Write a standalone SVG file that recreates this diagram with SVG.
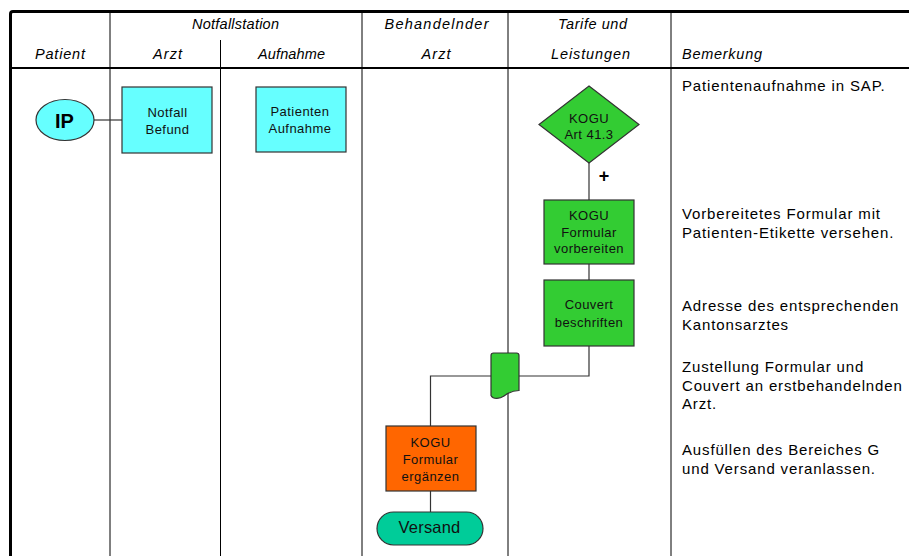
<svg xmlns="http://www.w3.org/2000/svg" width="909" height="556" viewBox="0 0 909 556">
  <style>
    .hdr { font-family: "Liberation Sans", Arial, sans-serif; font-style: italic; font-size: 14.5px; fill: #000; }
    .lbl { font-family: "Liberation Sans", Arial, sans-serif; font-size: 13px; letter-spacing: 0.45px; fill: #111; text-anchor: middle; }
    .note { font-family: "Liberation Sans", Arial, sans-serif; font-size: 15px; letter-spacing: 0.85px; fill: #000; }
    .grid { stroke: #000; stroke-width: 1; fill: none; }
    .frame { stroke: #000; stroke-width: 3; fill: none; }
    .shape { stroke: #333; stroke-width: 1.2; }
    .cyan { fill: #66FFFF; }
    .green { fill: #33CC33; }
    .orange { fill: #FF6600; }
    .teal { fill: #00CC99; }
    .conn { stroke: #333; stroke-width: 1.2; fill: none; }
  </style>

  <rect width="909" height="556" fill="#fff"/>

  <!-- swimlane table -->
  <g id="lanes">
    <line class="grid" x1="110" y1="12" x2="110" y2="556"/>
    <line class="grid" x1="220.5" y1="40" x2="220.5" y2="556"/>
    <line class="grid" x1="362" y1="12" x2="362" y2="556"/>
    <line class="grid" x1="508" y1="12" x2="508" y2="556"/>
    <line class="grid" x1="671" y1="12" x2="671" y2="556"/>
    <line x1="10" y1="68" x2="909" y2="68" stroke="#000" stroke-width="2"/>
    <path class="frame" d="M10.5,556 L10.5,14 Q10.5,11.5 13,11.5 L909,11.5"/>
  </g>

  <g id="headers">
    <text class="hdr" x="235.5" y="29" text-anchor="middle" textLength="87" lengthAdjust="spacing">Notfallstation</text>
    <text class="hdr" x="60" y="59" text-anchor="middle" textLength="50" lengthAdjust="spacing">Patient</text>
    <text class="hdr" x="167.5" y="59" text-anchor="middle" textLength="29" lengthAdjust="spacing">Arzt</text>
    <text class="hdr" x="291.5" y="59" text-anchor="middle" textLength="67" lengthAdjust="spacing">Aufnahme</text>
    <text class="hdr" x="436.5" y="29" text-anchor="middle" textLength="104" lengthAdjust="spacing">Behandelnder</text>
    <text class="hdr" x="436" y="59" text-anchor="middle" textLength="29" lengthAdjust="spacing">Arzt</text>
    <text class="hdr" x="592.5" y="29" text-anchor="middle" textLength="69" lengthAdjust="spacing">Tarife und</text>
    <text class="hdr" x="590.5" y="59" text-anchor="middle" textLength="79" lengthAdjust="spacing">Leistungen</text>
    <text class="hdr" x="682" y="59" textLength="80" lengthAdjust="spacing">Bemerkung</text>
  </g>

  <!-- connectors -->
  <g id="connectors">
    <line class="conn" x1="94" y1="120" x2="122" y2="120"/>
    <line class="conn" x1="589" y1="163" x2="589" y2="200"/>
    <line class="conn" x1="589" y1="264" x2="589" y2="280"/>
    <polyline class="conn" points="589,346 589,376 519,376"/>
    <polyline class="conn" points="491,376 430.5,376 430.5,426"/>
    <line class="conn" x1="430.5" y1="491" x2="430.5" y2="512"/>
    <text x="604" y="182" font-family="Liberation Sans, Arial, sans-serif" font-size="18" font-weight="bold" text-anchor="middle">+</text>
  </g>

  <!-- nodes -->
  <g id="node-ip">
    <ellipse class="shape cyan" cx="65" cy="120" rx="29" ry="20.5"/>
    <text x="64.5" y="128" font-family="Liberation Sans, Arial, sans-serif" font-size="20" font-weight="bold" text-anchor="middle">IP</text>
  </g>

  <g id="node-notfall-befund">
    <rect class="shape cyan" x="122" y="87" width="90" height="66"/>
    <text class="lbl" x="167.5" y="117">Notfall</text>
    <text class="lbl" x="167.5" y="134">Befund</text>
  </g>

  <g id="node-patienten-aufnahme">
    <rect class="shape cyan" x="256" y="87" width="90" height="65"/>
    <text class="lbl" x="300" y="116">Patienten</text>
    <text class="lbl" x="300" y="132.7">Aufnahme</text>
  </g>

  <g id="node-kogu-art">
    <polygon class="shape green" points="589,86 639,124.5 589,163 539,124.5"/>
    <text class="lbl" x="589" y="122.7">KOGU</text>
    <text class="lbl" x="589" y="139.3">Art 41.3</text>
  </g>

  <g id="node-formular-vorbereiten">
    <rect class="shape green" x="544" y="200" width="90" height="64"/>
    <text class="lbl" x="589" y="220">KOGU</text>
    <text class="lbl" x="589" y="236.7">Formular</text>
    <text class="lbl" x="589" y="253.3">vorbereiten</text>
  </g>

  <g id="node-couvert">
    <rect class="shape green" x="544" y="280" width="90" height="66"/>
    <text class="lbl" x="589" y="309.3">Couvert</text>
    <text class="lbl" x="589" y="326.7">beschriften</text>
  </g>

  <g id="node-dokument">
    <path class="shape green" d="M491,355.5 Q491,353 493.5,353 L516.5,353 Q519,353 519,355.5 L519,390.5 C512,390.5 508,393 504,396 C500,399 493,399.5 491,395.5 Z"/>
  </g>

  <g id="node-formular-ergaenzen">
    <rect class="shape orange" x="386" y="426" width="90" height="65"/>
    <text class="lbl" x="430.5" y="446.7">KOGU</text>
    <text class="lbl" x="430.5" y="464.3">Formular</text>
    <text class="lbl" x="430.5" y="481">ergänzen</text>
  </g>

  <g id="node-versand">
    <rect class="shape teal" x="377" y="512" width="106" height="33" rx="16.5" ry="16.5"/>
    <text x="429.5" y="533.3" font-family="Liberation Sans, Arial, sans-serif" font-size="16.5" letter-spacing="0.2" fill="#111" text-anchor="middle">Versand</text>
  </g>

  <!-- remarks column -->
  <g id="remarks">
    <text class="note" x="682" y="90.5">Patientenaufnahme in SAP.</text>
    <text class="note" x="682" y="218.5">Vorbereitetes Formular mit</text>
    <text class="note" x="682" y="237.5">Patienten-Etikette versehen.</text>
    <text class="note" x="682" y="310.5">Adresse des entsprechenden</text>
    <text class="note" x="682" y="329.5">Kantonsarztes</text>
    <text class="note" x="682" y="372">Zustellung Formular und</text>
    <text class="note" x="682" y="390.5">Couvert an erstbehandelnden</text>
    <text class="note" x="682" y="409">Arzt.</text>
    <text class="note" x="682" y="455">Ausfüllen des Bereiches G</text>
    <text class="note" x="682" y="474">und Versand veranlassen.</text>
  </g>
</svg>
